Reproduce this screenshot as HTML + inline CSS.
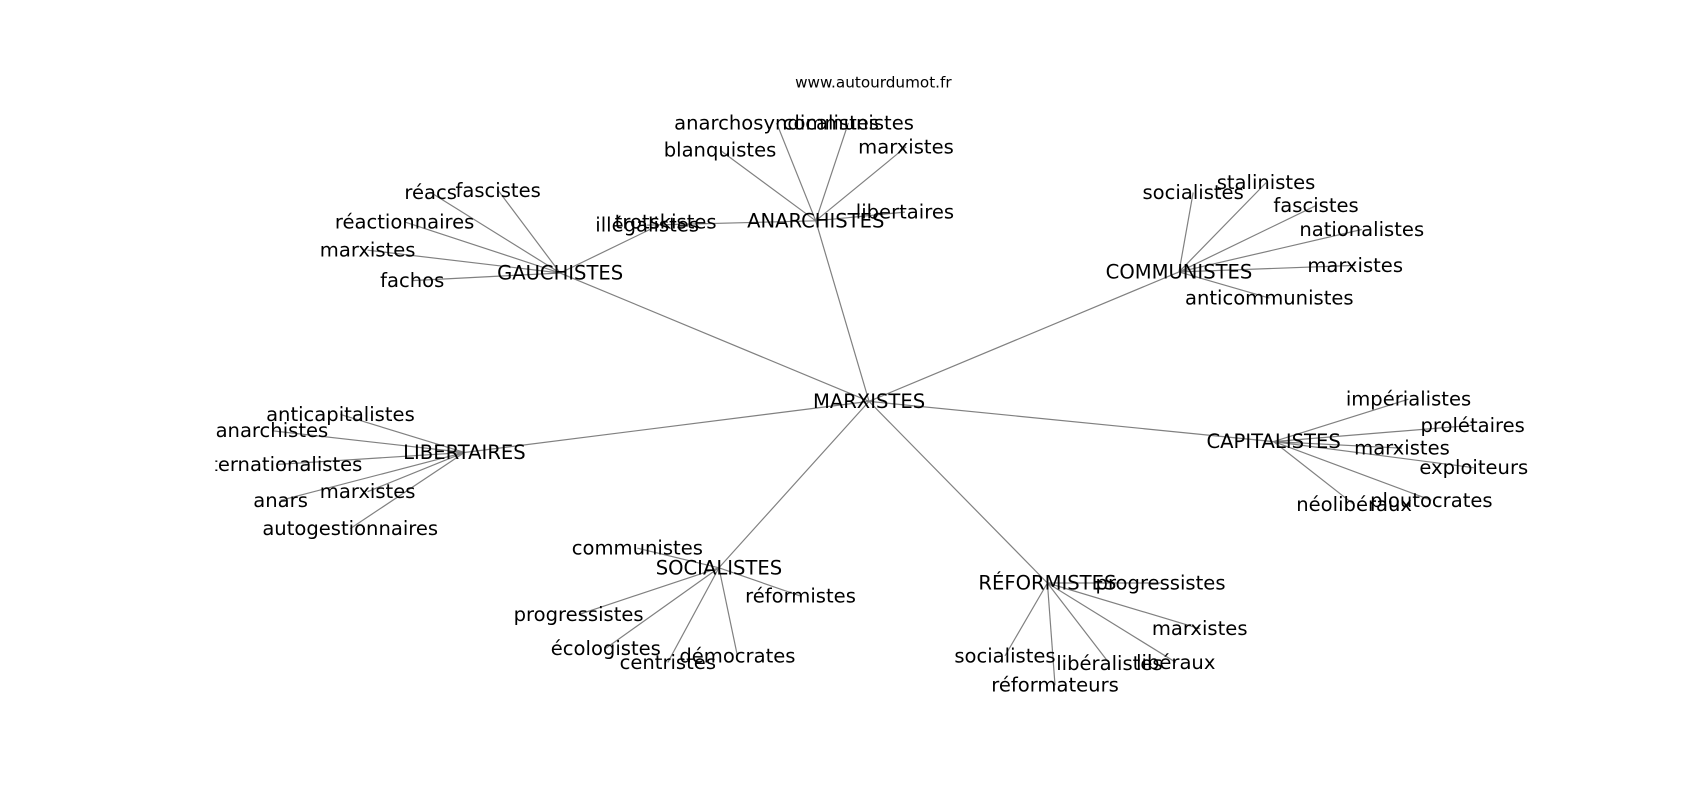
<!DOCTYPE html>
<html><head><meta charset="utf-8"><style>html,body{margin:0;padding:0;background:#fff}svg{display:block}</style></head>
<body>
<svg width="1700" height="800" viewBox="0 0 1563 735.5" xmlns="http://www.w3.org/2000/svg">
<defs><clipPath id="c"><rect x="198" y="0" width="1400" height="800"/></clipPath></defs>
<g stroke="#808080" stroke-width="1.1" fill="none">
<line x1="799" y1="369" x2="750" y2="203"/>
<line x1="799" y1="369" x2="515" y2="251"/>
<line x1="799" y1="369" x2="1084" y2="250"/>
<line x1="799" y1="369" x2="427" y2="416"/>
<line x1="799" y1="369" x2="1171" y2="406"/>
<line x1="799" y1="369" x2="661" y2="522"/>
<line x1="799" y1="369" x2="963" y2="536"/>
<line x1="750" y1="203" x2="714" y2="113"/>
<line x1="750" y1="203" x2="780" y2="113"/>
<line x1="750" y1="203" x2="662" y2="138"/>
<line x1="750" y1="203" x2="833" y2="135"/>
<line x1="750" y1="203" x2="832" y2="195"/>
<line x1="750" y1="203" x2="595" y2="207"/>
<line x1="515" y1="251" x2="396" y2="177"/>
<line x1="515" y1="251" x2="458" y2="175"/>
<line x1="515" y1="251" x2="372" y2="204"/>
<line x1="515" y1="251" x2="338" y2="230"/>
<line x1="515" y1="251" x2="379" y2="258"/>
<line x1="515" y1="251" x2="612" y2="204"/>
<line x1="1084" y1="250" x2="1097" y2="177"/>
<line x1="1084" y1="250" x2="1164" y2="168"/>
<line x1="1084" y1="250" x2="1210" y2="189"/>
<line x1="1084" y1="250" x2="1252" y2="211"/>
<line x1="1084" y1="250" x2="1246" y2="244"/>
<line x1="1084" y1="250" x2="1167" y2="274"/>
<line x1="427" y1="416" x2="313" y2="381"/>
<line x1="427" y1="416" x2="250" y2="396"/>
<line x1="427" y1="416" x2="255" y2="427"/>
<line x1="427" y1="416" x2="258" y2="460"/>
<line x1="427" y1="416" x2="338" y2="452"/>
<line x1="427" y1="416" x2="322" y2="486"/>
<line x1="1171" y1="406" x2="1295" y2="367"/>
<line x1="1171" y1="406" x2="1354" y2="391"/>
<line x1="1171" y1="406" x2="1289" y2="412"/>
<line x1="1171" y1="406" x2="1355" y2="430"/>
<line x1="1171" y1="406" x2="1245" y2="464"/>
<line x1="1171" y1="406" x2="1316" y2="460"/>
<line x1="661" y1="522" x2="586" y2="504"/>
<line x1="661" y1="522" x2="736" y2="548"/>
<line x1="661" y1="522" x2="532" y2="565"/>
<line x1="661" y1="522" x2="557" y2="596"/>
<line x1="661" y1="522" x2="614" y2="609"/>
<line x1="661" y1="522" x2="678" y2="603"/>
<line x1="963" y1="536" x2="1067" y2="536"/>
<line x1="963" y1="536" x2="1103" y2="578"/>
<line x1="963" y1="536" x2="1081" y2="609"/>
<line x1="963" y1="536" x2="1020" y2="610"/>
<line x1="963" y1="536" x2="924" y2="603"/>
<line x1="963" y1="536" x2="970" y2="630"/>
</g>
<g font-family="DejaVu Sans, Liberation Sans, sans-serif" font-size="18" fill="#000" text-anchor="middle" dominant-baseline="central" clip-path="url(#c)">
<text x="799" y="369">MARXISTES</text>
<text x="750" y="203">ANARCHISTES</text>
<text x="714" y="113">anarchosyndicalistes</text>
<text x="780" y="113">communistes</text>
<text x="662" y="138">blanquistes</text>
<text x="833" y="135">marxistes</text>
<text x="832" y="195">libertaires</text>
<text x="595" y="207">illégalistes</text>
<text x="515" y="251">GAUCHISTES</text>
<text x="396" y="177">réacs</text>
<text x="458" y="175">fascistes</text>
<text x="372" y="204">réactionnaires</text>
<text x="338" y="230">marxistes</text>
<text x="379" y="258">fachos</text>
<text x="612" y="204">trotskistes</text>
<text x="1084" y="250">COMMUNISTES</text>
<text x="1097" y="177">socialistes</text>
<text x="1164" y="168">stalinistes</text>
<text x="1210" y="189">fascistes</text>
<text x="1252" y="211">nationalistes</text>
<text x="1246" y="244">marxistes</text>
<text x="1167" y="274">anticommunistes</text>
<text x="427" y="416">LIBERTAIRES</text>
<text x="313" y="381">anticapitalistes</text>
<text x="250" y="396">anarchistes</text>
<text x="255" y="427">internationalistes</text>
<text x="258" y="460">anars</text>
<text x="338" y="452">marxistes</text>
<text x="322" y="486">autogestionnaires</text>
<text x="1171" y="406">CAPITALISTES</text>
<text x="1295" y="367">impérialistes</text>
<text x="1354" y="391">prolétaires</text>
<text x="1289" y="412">marxistes</text>
<text x="1355" y="430">exploiteurs</text>
<text x="1245" y="464">néolibéraux</text>
<text x="1316" y="460">ploutocrates</text>
<text x="661" y="522">SOCIALISTES</text>
<text x="586" y="504">communistes</text>
<text x="736" y="548">réformistes</text>
<text x="532" y="565">progressistes</text>
<text x="557" y="596">écologistes</text>
<text x="614" y="609">centristes</text>
<text x="678" y="603">démocrates</text>
<text x="963" y="536">RÉFORMISTES</text>
<text x="1067" y="536">progressistes</text>
<text x="1103" y="578">marxistes</text>
<text x="1081" y="609">libéraux</text>
<text x="1020" y="610">libéralistes</text>
<text x="924" y="603">socialistes</text>
<text x="970" y="630">réformateurs</text>
</g>
<text x="803" y="76" font-family="DejaVu Sans, Liberation Sans, sans-serif" font-size="14" text-anchor="middle" dominant-baseline="central">www.autourdumot.fr</text>
</svg>
</body></html>
